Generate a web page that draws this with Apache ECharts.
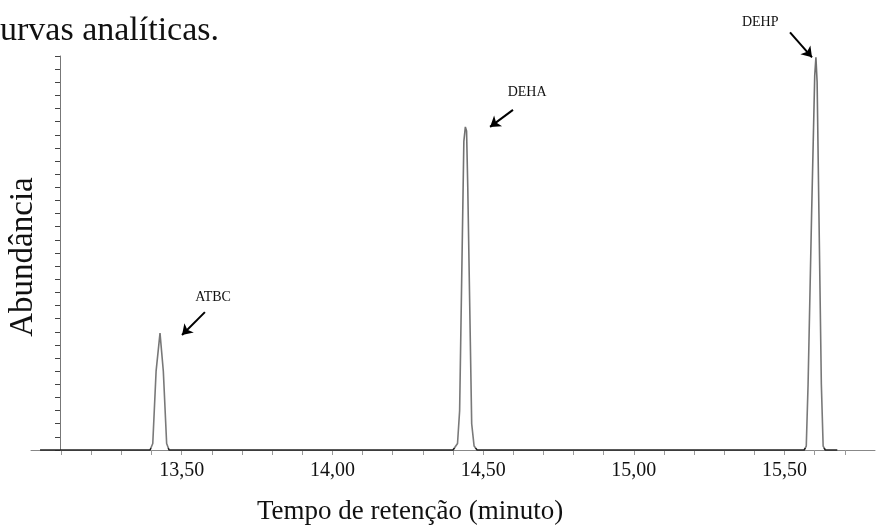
<!DOCTYPE html>
<html>
<head>
<meta charset="utf-8">
<script src="https://cdn.jsdelivr.net/npm/echarts@6/dist/echarts.min.js"></script>
<style>
html,body{margin:0;padding:0;background:#fff;}
#chart{width:879px;height:529px;}
</style>
</head>
<body>
<div id="chart"></div>
<script>
// Retention time (min) and abundance (arbitrary units) of the chromatogram trace
const traceTime = [13.03, 13.395, 13.404, 13.415, 13.428, 13.439, 13.450, 13.458,
  14.400, 14.415, 14.422, 14.436, 14.441, 14.445, 14.449, 14.462, 14.470, 14.480,
  15.565, 15.572, 15.578, 15.590, 15.600, 15.604, 15.608, 15.614, 15.622, 15.628, 15.635, 15.675];
const traceAbundance = [0, 0, 0.5, 6.0, 8.9, 6.0, 0.5, 0,
  0, 0.5, 3.0, 23.5, 24.6, 24.3, 20.0, 2.0, 0.3, 0,
  0, 0.3, 5.0, 18.3, 28.5, 29.9, 28.0, 18.0, 5.0, 0.3, 0, 0];

// Peak annotations: name, label position, arrow start and arrow end (time, abundance)
const peakNames = ['ATBC', 'DEHA', 'DEHP'];
const labelTime = [13.604, 14.646, 15.419];
const labelAbund = [11.65, 27.27, 32.6];
const arrowFromTime = [13.577, 14.599, 15.518];
const arrowFromAbund = [10.5, 25.9, 31.8];
const arrowToTime = [13.501, 14.523, 15.591];
const arrowToAbund = [8.76, 24.6, 29.9];

const tickLabels = ['13,50', '14,00', '14,50', '15,00', '15,50'];
const tickValues = [13.5, 14.0, 14.5, 15.0, 15.5];

const serif = '"Liberation Serif", "DejaVu Serif", serif';

const chart = echarts.init(document.getElementById('chart'));
const data = traceTime.map((t, i) => [t, traceAbundance[i]]);

// annotation overlay grid extends the same scale up to the top of the canvas
const plotBottom = 450, plotTop = 56, yMax = 30, H = 529;
const overlayMax = yMax * plotBottom / (plotBottom - plotTop);
const split = (plotBottom - 2) / H;

chart.setOption({
  animation: false,
  backgroundColor: '#fff',
  grid: [
    { left: 31, right: 4, top: plotTop, bottom: H - plotBottom, containLabel: false },
    { left: 31, right: 4, top: 0, bottom: H - plotBottom, containLabel: false }
  ],
  xAxis: [{
    type: 'value', min: 13.0, max: 15.8, interval: 0.1, gridIndex: 0,
    axisLine: { show: true, lineStyle: { color: '#888', width: 1 } },
    axisTick: { show: true, length: 5, lineStyle: { color: '#999' } },
    splitLine: { show: false },
    axisLabel: {
      showMinLabel: false, showMaxLabel: false, margin: 11,
      fontFamily: serif, fontSize: 20, color: '#111',
      formatter: function (v) {
        for (let i = 0; i < tickValues.length; i++) {
          if (Math.abs(v - tickValues[i]) < 1e-6) return tickLabels[i];
        }
        return '';
      }
    }
  }, {
    type: 'value', min: 13.0, max: 15.8, gridIndex: 1, show: false
  }],
  yAxis: [{
    type: 'value', min: 0, max: yMax, interval: 1, offset: -29, gridIndex: 0,
    axisLine: { show: true, lineStyle: { color: '#777', width: 1 } },
    axisTick: { show: true, length: 5, lineStyle: { color: '#444' } },
    axisLabel: { show: false },
    splitLine: { show: false }
  }, {
    type: 'value', min: 0, max: overlayMax, gridIndex: 1, show: false
  }],
  graphic: [
    { type: 'text', left: 0, top: 14, style: { text: 'urvas analíticas.', font: '34px ' + serif, fill: '#111' } },
    { type: 'text', x: 23, y: 257, rotation: Math.PI / 2,
      style: { text: 'Abundância', font: '33px ' + serif, fill: '#111', align: 'center', verticalAlign: 'middle' } },
    { type: 'text', x: 410, y: 512,
      style: { text: 'Tempo de retenção (minuto)', font: '27px ' + serif, fill: '#111', align: 'center', verticalAlign: 'middle' } }
  ],
  series: [{
    type: 'line',
    xAxisIndex: 0, yAxisIndex: 0,
    data: data,
    showSymbol: false,
    symbol: 'none',
    clip: false,
    lineStyle: {
      width: 1.6,
      color: {
        type: 'linear', x: 0, y: 0, x2: 0, y2: H, global: true,
        colorStops: [
          { offset: 0, color: '#6e6e6e' },
          { offset: split, color: '#7a7a7a' },
          { offset: split + 0.001, color: '#222' },
          { offset: 1, color: '#222' }
        ]
      }
    }
  }, {
    type: 'line',
    xAxisIndex: 1, yAxisIndex: 1,
    data: [],
    symbol: 'none',
    markLine: {
      silent: true,
      symbol: ['none', 'arrow'],
      symbolSize: 10,
      lineStyle: { color: '#000', width: 2, type: 'solid' },
      label: { show: false },
      data: peakNames.map((n, i) => [
        { coord: [arrowFromTime[i], arrowFromAbund[i]] },
        { coord: [arrowToTime[i], arrowToAbund[i]] }
      ])
    },
    markPoint: {
      silent: true,
      symbol: 'circle',
      symbolSize: 0,
      label: { show: true, position: 'inside', fontFamily: serif, fontSize: 14, color: '#111', formatter: '{b}' },
      data: peakNames.map((n, i) => ({ name: n, coord: [labelTime[i], labelAbund[i]] }))
    }
  }]
});
</script>
</body>
</html>
